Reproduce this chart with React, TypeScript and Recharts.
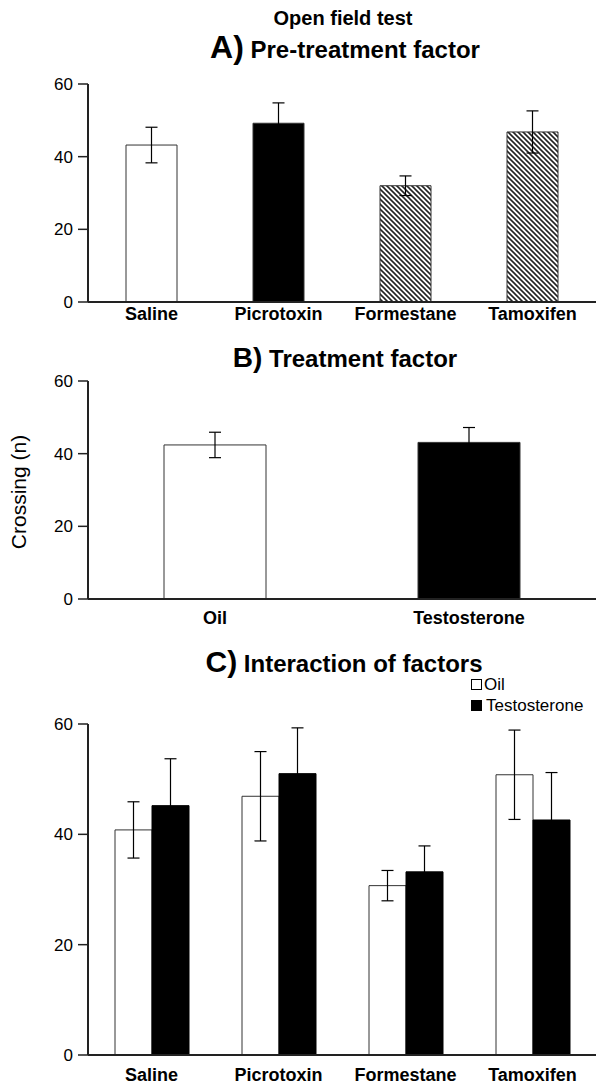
import { Bar, BarChart, Cell, ErrorBar, Legend, XAxis, YAxis } from "recharts";

// Open field test — three bar panels (mean ± SEM crossings).

const pretreatments = ["Saline", "Picrotoxin", "Formestane", "Tamoxifen"];
const pretreatMean = [43.2, 49.2, 32.0, 46.8];
const pretreatSem = [4.9, 5.6, 2.7, 5.8];
const pretreatFill = ["#fff", "#000", "url(#hatch)", "url(#hatch)"];

const treatments = ["Oil", "Testosterone"];
const treatMean = [42.4, 43.1];
const treatSem = [3.5, 4.1];
const treatFill = ["#fff", "#000"];

const oilMean = [40.8, 46.9, 30.7, 50.8];
const oilSem = [5.1, 8.1, 2.75, 8.1];
const testoMean = [45.2, 51.0, 33.2, 42.6];
const testoSem = [8.5, 8.3, 4.7, 8.6];

const yTicks = [0, 20, 40, 60];

const FONT = "'Liberation Sans', Arial, Helvetica, sans-serif";
const INK = "#222";
const ERR = "#000";

const dataA = pretreatments.map((name, i) => ({
  name,
  mean: pretreatMean[i],
  sem: pretreatSem[i],
}));
const dataB = treatments.map((name, i) => ({
  name,
  mean: treatMean[i],
  sem: treatSem[i],
}));
const dataC = pretreatments.map((name, i) => ({
  name,
  oil: oilMean[i],
  oilSem: oilSem[i],
  testo: testoMean[i],
  testoSem: testoSem[i],
}));

const xTick = { fontSize: 18, fontWeight: 700, fill: "#000", fontFamily: FONT };
const yTick = { fontSize: 17, fill: "#000", fontFamily: FONT };

function yAxis() {
  return (
    <YAxis
      width={88}
      domain={[0, 60]}
      ticks={yTicks}
      interval={0}
      tickSize={10}
      tickMargin={5}
      tick={yTick}
      axisLine={{ stroke: INK, strokeWidth: 2 }}
      tickLine={{ stroke: INK, strokeWidth: 1.5 }}
    />
  );
}

function xAxis(height: number, margin: number) {
  return (
    <XAxis
      dataKey="name"
      height={height}
      tickLine={false}
      tickSize={0}
      tickMargin={margin}
      tick={xTick}
      interval={0}
      axisLine={{ stroke: INK, strokeWidth: 2 }}
    />
  );
}

function LegendBox() {
  const row = { display: "flex", alignItems: "center", height: 21 };
  const sq = { width: 9, height: 9, border: "1px solid #000", marginRight: 2 };
  return (
    <div style={{ fontFamily: FONT, fontSize: 17, color: "#000", lineHeight: "21px" }}>
      <div style={row}>
        <span style={{ ...sq, background: "#fff" }} />
        <span>Oil</span>
      </div>
      <div style={row}>
        <span style={{ ...sq, background: "#000", marginRight: 4 }} />
        <span>Testosterone</span>
      </div>
    </div>
  );
}

export default function App() {
  return (
    <div style={{ position: "relative", width: 596, height: 1086, fontFamily: FONT, background: "#fff" }}>
      <style>{`body{margin:0;background:#fff}`}</style>

      <svg width={0} height={0} style={{ position: "absolute" }}>
        <defs>
          <pattern id="hatch" patternUnits="userSpaceOnUse" width={5} height={5}>
            <rect width={5} height={5} fill="#fff" />
            <path d="M0,0 L5,5 M-1,4 L1,6 M4,-1 L6,1" stroke="#222" strokeWidth={1.6} />
          </pattern>
        </defs>
      </svg>

      <div style={{ position: "absolute", left: 0, top: 74 }}>
        <BarChart width={596} height={260} data={dataA} margin={{ top: 10, right: 0, bottom: 0, left: 0 }}>
          {xAxis(32, 5)}
          {yAxis()}
          <Bar dataKey="mean" barSize={51} stroke="#333" strokeWidth={1} isAnimationActive={false}>
            {dataA.map((d, i) => (
              <Cell key={d.name} fill={pretreatFill[i]} />
            ))}
            <ErrorBar dataKey="sem" width={6} stroke={ERR} strokeWidth={1.2} direction="y" />
          </Bar>
        </BarChart>
      </div>

      <div style={{ position: "absolute", left: 0, top: 371 }}>
        <BarChart width={596} height={260} data={dataB} margin={{ top: 10, right: 0, bottom: 0, left: 0 }}>
          {xAxis(32, 12)}
          {yAxis()}
          <Bar dataKey="mean" barSize={102} stroke="#333" strokeWidth={1} isAnimationActive={false}>
            {dataB.map((d, i) => (
              <Cell key={d.name} fill={treatFill[i]} />
            ))}
            <ErrorBar dataKey="sem" width={6} stroke={ERR} strokeWidth={1.2} direction="y" />
          </Bar>
        </BarChart>
      </div>

      <div style={{ position: "absolute", left: 0, top: 670 }}>
        <BarChart
          width={596}
          height={416}
          data={dataC}
          barGap={0}
          margin={{ top: 54, right: 0, bottom: 0, left: 0 }}
        >
          {xAxis(31, 13)}
          {yAxis()}
          <Legend
            layout="vertical"
            align="center"
            verticalAlign="middle"
            content={() => <LegendBox />}
            wrapperStyle={{ left: 471, top: 4, width: "auto", height: "auto" }}
          />
          <Bar name="Oil" dataKey="oil" barSize={37} fill="#fff" stroke="#333" strokeWidth={1} isAnimationActive={false}>
            <ErrorBar dataKey="oilSem" width={6} stroke={ERR} strokeWidth={1.2} direction="y" />
          </Bar>
          <Bar name="Testosterone" dataKey="testo" barSize={37} fill="#000" stroke="#000" strokeWidth={1} isAnimationActive={false}>
            <ErrorBar dataKey="testoSem" width={6} stroke={ERR} strokeWidth={1.2} direction="y" />
          </Bar>
        </BarChart>
      </div>

      <svg
        width={596}
        height={1086}
        style={{ position: "absolute", left: 0, top: 0, pointerEvents: "none" }}
      >
        <g fontFamily={FONT} fontWeight={700} fill="#000" textAnchor="middle">
          <text x={343} y={25} fontSize={20}>Open field test</text>
          <text x={345} y={58}>
            <tspan fontSize={32}>A)</tspan>
            <tspan fontSize={24}> Pre-treatment factor</tspan>
          </text>
          <text x={345} y={367}>
            <tspan fontSize={28}>B)</tspan>
            <tspan fontSize={24}> Treatment factor</tspan>
          </text>
          <text x={344} y={672}>
            <tspan fontSize={30}>C)</tspan>
            <tspan fontSize={24}> Interaction of factors</tspan>
          </text>
        </g>
        <text
          x={0}
          y={0}
          transform="translate(26,492) rotate(-90)"
          textAnchor="middle"
          fontFamily={FONT}
          fontSize={21}
          fill="#000"
        >
          Crossing (n)
        </text>
      </svg>
    </div>
  );
}
